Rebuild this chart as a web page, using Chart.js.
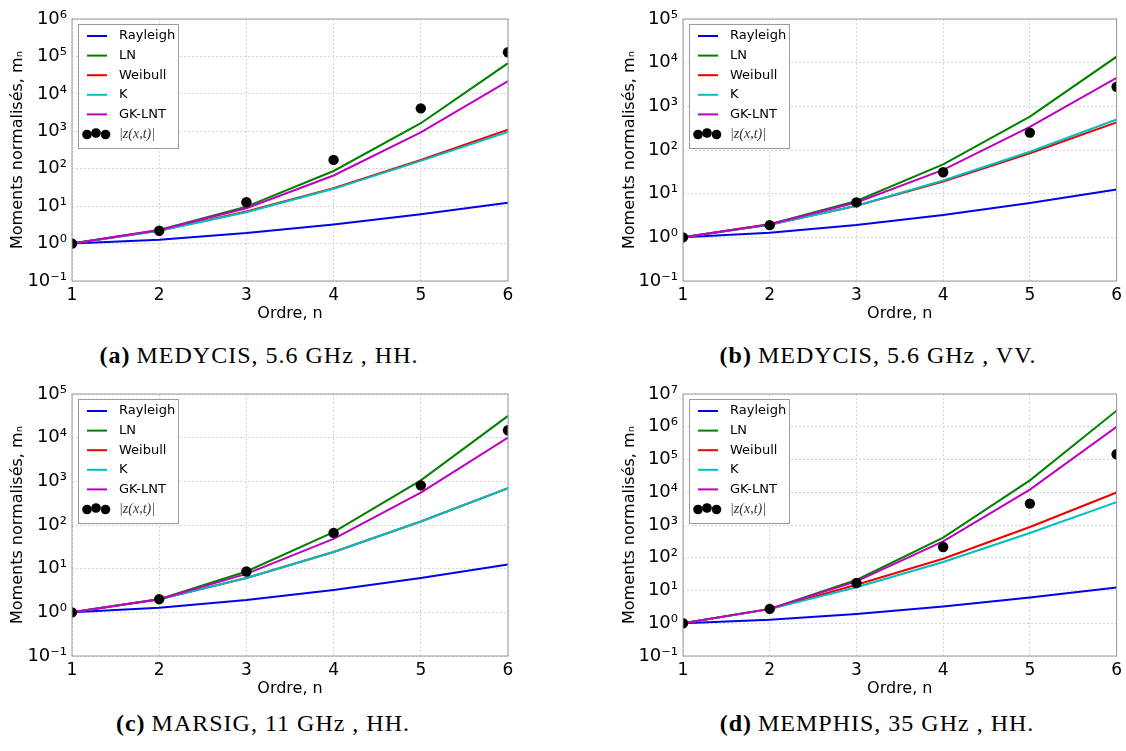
<!DOCTYPE html>
<html>
<head>
<meta charset="utf-8">
<script src="https://cdn.jsdelivr.net/npm/chart.js@4/dist/chart.umd.min.js"></script>
<style>
body { margin: 0; background: #fff; width: 1126px; height: 751px; position: relative; overflow: hidden; }
canvas { position: absolute; }
.cap { position: absolute; font-family: "Liberation Serif", serif; font-size: 24px; line-height: 28px;
       letter-spacing: 1px; white-space: nowrap; transform: translateX(-50%); color: #000; }
.cap b { margin-right: 6px; }
</style>
</head>
<body>
<canvas id="chartA" width="520" height="332" style="left:0px;top:0px"></canvas>
<canvas id="chartB" width="526" height="332" style="left:600px;top:0px"></canvas>
<canvas id="chartC" width="520" height="332" style="left:0px;top:375px"></canvas>
<canvas id="chartD" width="526" height="332" style="left:600px;top:375px"></canvas>
<div class="cap" style="left:259px;top:341px"><b>(a)</b>MEDYCIS, 5.6 GHz , HH.</div>
<div class="cap" style="left:878px;top:341px"><b>(b)</b>MEDYCIS, 5.6 GHz , VV.</div>
<div class="cap" style="left:263px;top:709px"><b>(c)</b>MARSIG, 11 GHz , HH.</div>
<div class="cap" style="left:877px;top:709px"><b>(d)</b>MEMPHIS, 35 GHz , HH.</div>
<script>
// ordre n
const orders = [1, 2, 3, 4, 5, 6];
const seriesNames = ["Rayleigh", "LN", "Weibull", "K", "GK-LNT"];
const seriesColors = ["#0000ee", "#008000", "#ee0000", "#00bfbf", "#bf00bf"];
const pointsLabel = "|z(x,t)|";

// Rayleigh is the same in every panel
const rayleigh = [1, 1.27, 1.91, 3.24, 6.08, 12.4];

// (a) MEDYCIS HH
const lnA = [1, 2.3, 9.7, 87, 1640, 66000];
const weibullA = [1, 2.2, 7.2, 30, 172, 1110];
const kA = [1, 2.2, 6.9, 29, 162, 960];
const gkA = [1, 2.3, 8.8, 66, 930, 22000];
const zA = [1, 2.2, 12.7, 172, 4100, 129000];

// (b) MEDYCIS VV
const lnB = [1, 2.0, 6.8, 47, 580, 13700];
const weibullB = [1, 1.95, 5.3, 19, 84, 430];
const kB = [1, 1.95, 5.3, 20, 91, 500];
const gkB = [1, 2.0, 6.3, 35, 340, 4500];
const zB = [1, 1.9, 6.3, 31, 250, 2800];

// (c) MARSIG HH
const lnC = [1, 2.0, 8.6, 69, 1050, 31500];
const weibullC = [1, 2.0, 6.1, 24, 120, 700];
const kC = [1, 2.0, 6.1, 24, 120, 700];
const gkC = [1, 2.0, 7.6, 48, 550, 10000];
const zC = [1, 2.0, 8.6, 66, 810, 14800];

// (d) MEMPHIS HH
const lnD = [1, 2.75, 21, 410, 23000, 3100000];
const weibullD = [1, 2.7, 15, 93, 870, 9800];
const kD = [1, 2.7, 12.6, 74, 570, 5000];
const gkD = [1, 2.75, 19, 316, 12000, 1000000];
const zD = [1, 2.75, 17, 213, 4500, 145000];

// y tick decades
const yTicksA = [0.1, 1, 10, 100, 1e3, 1e4, 1e5, 1e6];
const yTicksB = [0.1, 1, 10, 100, 1e3, 1e4, 1e5];
const yTicksC = [0.1, 1, 10, 100, 1e3, 1e4, 1e5];
const yTicksD = [0.1, 1, 10, 100, 1e3, 1e4, 1e5, 1e6, 1e7];

Chart.defaults.color = "#000";
Chart.defaults.font.family = "'DejaVu Sans', sans-serif";

const supDigits = {"-": "\u207B", "0": "\u2070", "1": "\u00B9", "2": "\u00B2", "3": "\u00B3",
  "4": "\u2074", "5": "\u2075", "6": "\u2076", "7": "\u2077", "8": "\u2078", "9": "\u2079"};
function powLabel(v) {
    var e = String(Math.round(Math.log10(v)));
    var s = "";
    for (var i = 0; i < e.length; i++) s += supDigits[e[i]];
    return "10" + s;
}

function toXY(values) {
    return orders.map(function(n, i) { return {x: n, y: values[i]}; });
}

// frame round the plot area (all four sides like matplotlib)
const framePlugin = {
    id: "frame",
    afterDatasetsDraw(chart) {
        const a = chart.chartArea, ctx = chart.ctx;
        ctx.save();
        ctx.strokeStyle = "#9a9a9a";
        ctx.lineWidth = 1;
        ctx.strokeRect(a.left, a.top, a.right - a.left, a.bottom - a.top);
        ctx.restore();
    }
};

// legend box inside the upper-left corner
const boxLegend = {
    id: "boxLegend",
    afterDraw(chart) {
        const a = chart.chartArea, ctx = chart.ctx;
        const x0 = a.left + 6, y0 = a.top + 5, w = 100, h = 124, step = 19.6;
        ctx.save();
        ctx.fillStyle = "#fff";
        ctx.strokeStyle = "#9a9a9a";
        ctx.lineWidth = 1;
        ctx.fillRect(x0, y0, w, h);
        ctx.strokeRect(x0 + 0.5, y0 + 0.5, w, h);
        ctx.textBaseline = "middle";
        chart.data.datasets.forEach(function(ds, i) {
            const y = y0 + 12 + i * step;
            if (ds.showLine) {
                ctx.strokeStyle = ds.borderColor;
                ctx.lineWidth = 2;
                ctx.beginPath();
                ctx.moveTo(x0 + 9, y);
                ctx.lineTo(x0 + 29, y);
                ctx.stroke();
                ctx.fillStyle = "#000";
                ctx.font = "13px 'DejaVu Sans'";
                ctx.fillText(ds.label, x0 + 41, y);
            } else {
                ctx.fillStyle = "#000";
                [[9, 1.5], [18, 0], [27.5, 1.5]].forEach(function(p) {
                    ctx.beginPath();
                    ctx.arc(x0 + p[0], y + p[1] - 1, 4.8, 0, Math.PI * 2);
                    ctx.fill();
                });
                ctx.fillStyle = "#333";
                ctx.font = "italic 14px 'Liberation Serif'";
                ctx.fillText(ds.label, x0 + 41, y);
            }
        });
        ctx.restore();
    }
};

function makeChart(id, curves, points, yTicks, wide) {
    const n = curves.length + 1;
    // later series sit on top, as in the original plot
    const datasets = curves.map(function(vals, i) {
        return {
            label: seriesNames[i],
            data: toXY(vals),
            showLine: true,
            borderColor: seriesColors[i],
            backgroundColor: seriesColors[i],
            borderWidth: 2,
            pointRadius: 0,
            order: n - i,
            clip: 0
        };
    });
    datasets.push({
        label: pointsLabel,
        data: toXY(points),
        showLine: false,
        pointRadius: 5.2,
        pointBackgroundColor: "#000",
        pointBorderColor: "#000",
        pointBorderWidth: 0,
        order: 0,
        clip: 0
    });
    const ctx = document.getElementById(id).getContext("2d");
    return new Chart(ctx, {
        type: "scatter",
        data: {datasets: datasets},
        options: {
            responsive: false,
            animation: false,
            events: [],
            layout: {padding: {left: wide ? 12 : 0, right: wide ? 9 : 12, top: 19, bottom: 0}},
            plugins: {legend: {display: false}, tooltip: {enabled: false}},
            scales: {
                x: {
                    type: "linear",
                    min: 1,
                    max: 6,
                    afterFit: function(s) { s.height = 51; },
                    ticks: {stepSize: 1, padding: 4, font: {size: 17}, maxRotation: 0},
                    grid: {color: "#d4d4d4", drawTicks: false},
                    border: {display: false, dash: [2, 2]},
                    title: {display: true, text: "Ordre, n", font: {size: 16}, padding: {bottom: 9}}
                },
                y: {
                    type: "logarithmic",
                    min: yTicks[0],
                    max: yTicks[yTicks.length - 1],
                    afterFit: function(s) { s.width = wide ? 71 : 72; },
                    afterBuildTicks: function(s) { s.ticks = yTicks.map(function(v) { return {value: v}; }); },
                    ticks: {callback: function(v) { return powLabel(v); }, padding: 5, font: {size: 18}, autoSkip: false},
                    grid: {color: "#d4d4d4", drawTicks: false},
                    border: {display: false, dash: [2, 2]},
                    title: {display: true, text: "Moments normalisés, m\u2099", font: {size: 16}, padding: {top: 8}}
                }
            }
        },
        plugins: [framePlugin, boxLegend]
    });
}

makeChart("chartA", [rayleigh, lnA, weibullA, kA, gkA], zA, yTicksA, false);
makeChart("chartB", [rayleigh, lnB, weibullB, kB, gkB], zB, yTicksB, true);
makeChart("chartC", [rayleigh, lnC, weibullC, kC, gkC], zC, yTicksC, false);
makeChart("chartD", [rayleigh, lnD, weibullD, kD, gkD], zD, yTicksD, true);
</script>
</body>
</html>
